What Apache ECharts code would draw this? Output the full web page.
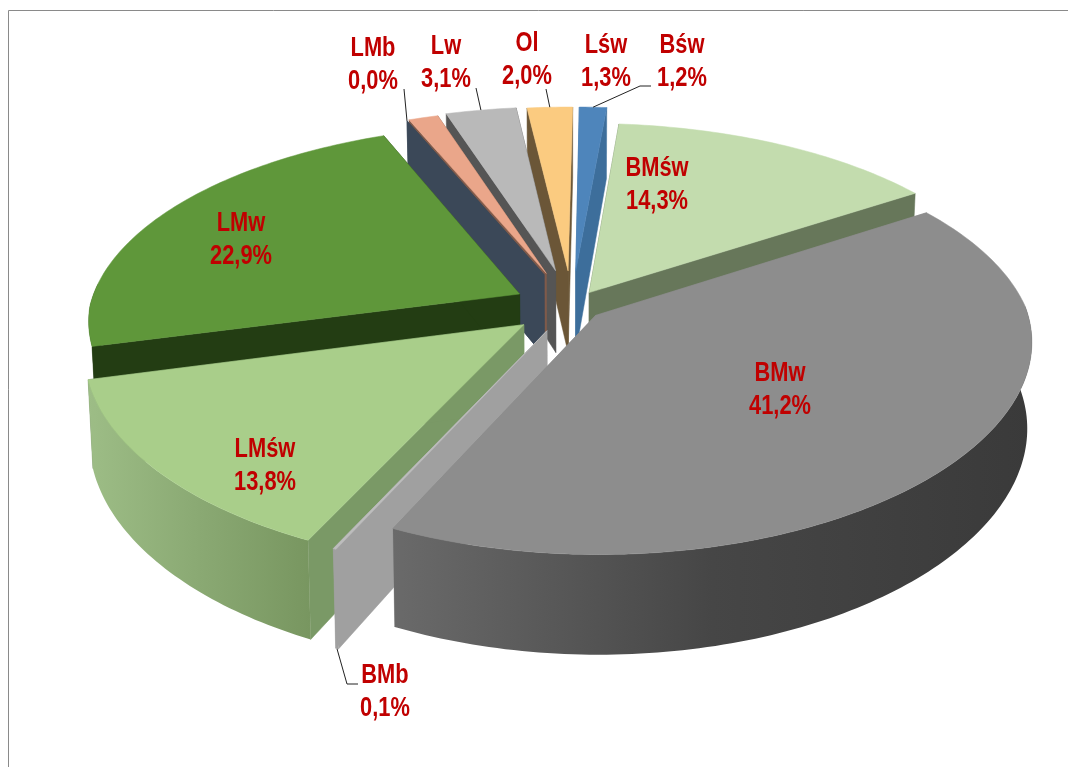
<!DOCTYPE html>
<html><head><meta charset="utf-8">
<style>html,body{margin:0;padding:0;background:#fff}#c{width:1068px;height:767px}</style>
<script src="https://cdn.jsdelivr.net/npm/echarts@6/dist/echarts.min.js"></script>
</head><body><div id="c"></div>
<script>
const sliceNames  = ['BMw','BMb','LMśw','LMw','LMb','Lśw','Lw','Ol','Bśw','BMśw'];
const sliceValues = [41.2,0.1,13.8,22.9,0.0,1.3,3.1,2.0,1.2,14.3];
const explode     = [31,58,62,59,75,77,80,78,78,34];
const topColors   = ['#8d8d8d','#bdbdbd','#a9ce8a','#5f973a','#3b4858','#eaa68a','#b9b9b9','#fbcb80','#4e85bb','#c3dcae'];
const wallColors  = ['#8d8d8d','#a0a0a0','#7a9966','#233d13','#3b4858','#7f5a4a','#555555','#6b5637','#3d6e9b','#67775a'];
const outerLeft   = ['#6a6a6a','#a0a0a0','#9dbd86','#233d13','#3b4858','#7f5a4a','#555555','#6b5637','#3d6e9b','#67775a'];
const outerMid    = ['#464646','#a0a0a0','#8aa973','#233d13','#3b4858','#7f5a4a','#555555','#6b5637','#3d6e9b','#67775a'];
const outerRight  = ['#3a3a3a','#a0a0a0','#789660','#233d13','#3b4858','#7f5a4a','#555555','#6b5637','#3d6e9b','#67775a'];
const paintOrder  = ['Ol','Lw','Lśw','LMb','LMw','Bśw','BMśw','LMśw','BMb','BMw'];
// label centres and leader bends, per slice name
const labelPos = {BMw:[780,390],BMb:[385,692],'LMśw':[265,466],LMw:[241,240],LMb:[373,65],'Lśw':[606,62],Lw:[446,63],Ol:[527,60],'Bśw':[682,62],'BMśw':[657,185]};
const leaderEnds = {LMb:[[404,89]],Lw:[[476,88]],Ol:[[546,89]],'Bśw':[[640,86],[651,86]],BMb:[[347,684],[358,684]]};

const P = {cx:572, cy:306, R:430, sy:0.463, k:0.154, kNearX:0.123, h:84, shrink:0.99, start:-33.5};
const total = sliceValues.reduce((a,b)=>a+b,0);
const spans = []; {let a=P.start; sliceValues.forEach(v=>{const s=v/total*360; spans.push([a,a+s]); a+=s;});}
const rad = d=>d*Math.PI/180;
function proj(u,v,z){
  const w=1-P.k*v/P.R, wx=v>0?1-P.kNearX*v/P.R:w, f=z?P.shrink:1;
  return [P.cx+f*u/wx, P.cy+(P.sy*v+(z||0))/w];
}
function rim(i,deg,z){
  const [a,b]=spans[i], m=rad((a+b)/2), e=explode[i];
  return proj(P.R*Math.cos(rad(deg))+e*Math.cos(m), P.R*Math.sin(rad(deg))+e*Math.sin(m), z);
}
function apex(i,z){const [a,b]=spans[i], m=rad((a+b)/2), e=explode[i]; return proj(e*Math.cos(m),e*Math.sin(m),z);}
function angles(i){const [a,b]=spans[i], n=Math.max(1,Math.ceil(b-a)), p=[]; for(let j=0;j<=n;j++)p.push(a+(b-a)*j/n); return p;}
function poly(points,fill,noStroke){return {type:'polygon',shape:{points},style:noStroke?{fill}:{fill,stroke:fill,lineWidth:0.5},silent:true};}

function renderSlice(params,api){
  const i=api.value(0), [a,b]=spans[i], ang=angles(i), ch=[];
  const top=ang.map(d=>rim(i,d,0));
  const A0=apex(i,0),A1=apex(i,P.h);
  ch.push(poly([A0,rim(i,a,0),rim(i,a,P.h),A1],wallColors[i]));
  ch.push(poly([A0,rim(i,b,0),rim(i,b,P.h),A1],wallColors[i]));
  const vis=ang.filter(d=>Math.sin(rad(d))>-0.06);   // only the near part of the rim shows its outer wall
  if(vis.length>1){
    const t=vis.map(d=>rim(i,d,0)), u=vis.map(d=>rim(i,d,P.h)).reverse();
    ch.push(poly(t.concat(u),{type:'linear',x:0,y:0,x2:1,y2:0,colorStops:[{offset:0,color:outerLeft[i]},{offset:0.5,color:outerMid[i]},{offset:1,color:outerRight[i]}]},true));
  }
  if(b>a) ch.push(poly([A0].concat(top),topColors[i]));
  return {type:'group',children:ch};
}
function fmt(v){return v.toFixed(1).replace('.',',')+'%';}
function renderLabel(params,api){
  const i=api.value(0), n=sliceNames[i], [x,y]=labelPos[n], ch=[];
  if(leaderEnds[n]){
    const s=rim(i,(spans[i][0]+spans[i][1])/2,n==='BMb'?P.h:0);
    ch.push({type:'polyline',shape:{points:[s].concat(leaderEnds[n])},style:{stroke:'#222',lineWidth:1,fill:'none'},silent:true});
  }
  ch.push({type:'text',silent:true,x,y,scaleX:0.81,style:{text:n+'\n'+fmt(sliceValues[i]),x:0,y:0,align:'center',verticalAlign:'middle',
    font:'bold 27px "Liberation Sans",sans-serif',lineHeight:33,fill:'#c00000'}});
  return {type:'group',children:ch};
}
const chart=echarts.init(document.getElementById('c'),null,{renderer:'canvas'});
chart.setOption({
  animation:false,backgroundColor:'#fff',
  graphic:[{type:'rect',silent:true,z:-1,shape:{x:8.5,y:10.5,width:1200,height:900},style:{fill:'#fff',stroke:'#8a8a8a',lineWidth:1}}],
  series:[
    {type:'custom',coordinateSystem:'none',clip:false,silent:true,renderItem:renderSlice,data:paintOrder.map(n=>[sliceNames.indexOf(n),sliceValues[sliceNames.indexOf(n)]]),z:2},
    {type:'custom',coordinateSystem:'none',clip:false,silent:true,renderItem:renderLabel,data:sliceNames.map((n,i)=>[i,sliceValues[i]]),z:3}
  ]
});
</script></body></html>
